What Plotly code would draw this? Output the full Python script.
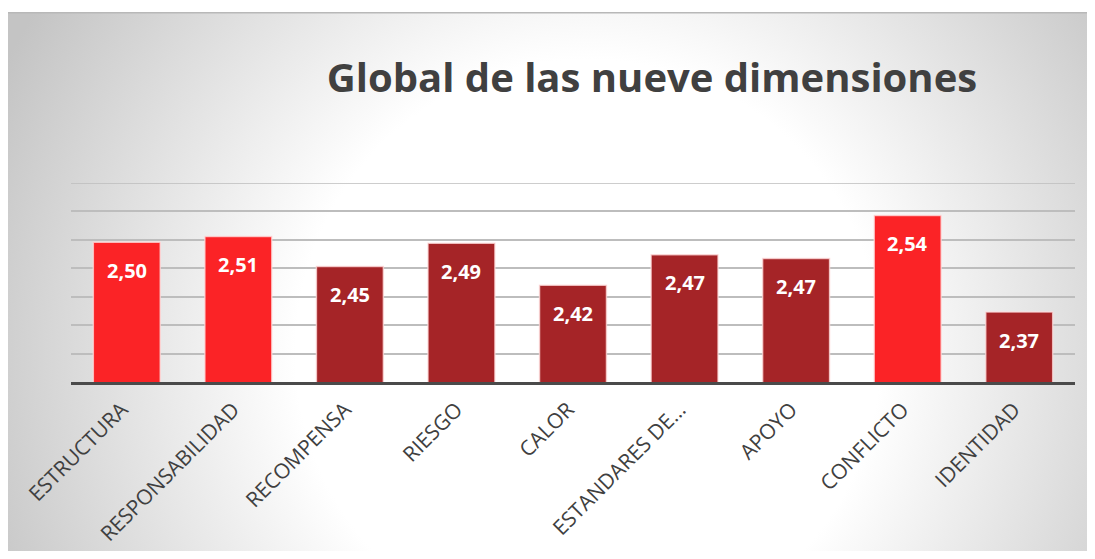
import base64
import plotly.graph_objects as go

categories = ["ESTRUCTURA", "RESPONSABILIDAD", "RECOMPENSA", "RIESGO", "CALOR",
              "ESTANDARES DE…", "APOYO", "CONFLICTO", "IDENTIDAD"]
values = [2.496, 2.506, 2.453, 2.494, 2.420, 2.474, 2.467, 2.543, 2.373]
value_labels = ["2,50", "2,51", "2,45", "2,49", "2,42", "2,47", "2,47", "2,54", "2,37"]
highlight = [True, True, False, False, False, False, False, True, False]
grid_values = [2.25, 2.30, 2.35, 2.40, 2.45, 2.50, 2.55, 2.60]

BRIGHT = "#FB2326"
DARK = "#A52427"
GRID = "#bdbdbd"
colors = [BRIGHT if h else DARK for h in highlight]

W, H = 1087, 543
L, R, T, B = 63, 20, 175, 169
pw, ph = W - L - R, H - T - B

PW, PH = 1087, 540  # background panel size (px)
svg = (f'<svg xmlns="http://www.w3.org/2000/svg" width="{PW}" height="{PH}" preserveAspectRatio="none">'
       '<defs><radialGradient id="g" gradientUnits="userSpaceOnUse" cx="580" cy="340" r="650">'
       '<stop offset="0" stop-color="#ffffff"/><stop offset="0.45" stop-color="#ffffff"/>'
       '<stop offset="1" stop-color="#c4c4c4"/></radialGradient></defs>'
       f'<rect x="0" y="0" width="{PW}" height="{PH}" fill="url(#g)"/>'
       f'<line x1="0" y1="0.75" x2="{PW}" y2="0.75" stroke="#b8b8b8" stroke-width="1.5"/>'
       '</svg>')
src = "data:image/svg+xml;base64," + base64.b64encode(svg.encode()).decode()

fig = go.Figure()
fig.add_trace(go.Bar(
    x=categories, y=values,
    marker=dict(color=colors, line=dict(color="rgba(255,220,220,0.75)", width=1.5)),
    width=0.6, hoverinfo="x+y",
))

annotations = []
for c, v, t in zip(categories, values, value_labels):
    annotations.append(dict(x=c, y=v, text=t, showarrow=False, yshift=-28,
                            xanchor="center", yanchor="middle",
                            font=dict(family="Open Sans", size=20, color="white", weight="bold")))

fig.update_layout(
    width=W, height=H, autosize=False,
    margin=dict(l=L, r=R, t=T, b=B, autoexpand=False),
    paper_bgcolor="white",
    plot_bgcolor="rgba(0,0,0,0)",
    title=dict(text="<b>Global de las nueve dimensiones</b>", x=644 / W, xanchor="center",
               y=1 - 70 / H, yanchor="middle",
               font=dict(family="Open Sans", size=40, color="#404040")),
    xaxis=dict(tickangle=-45, tickfont=dict(family="Open Sans", size=21, color="#404040"),
               showline=True, linecolor="#4a4a4a", linewidth=3, ticks="outside",
               ticklen=4, tickcolor="rgba(0,0,0,0)", showgrid=False,
               ticklabelshift=-5, automargin=False),
    yaxis=dict(range=[grid_values[0], grid_values[-1]], tickmode="array",
               tickvals=grid_values, showticklabels=False,
               showgrid=True, gridcolor=GRID, gridwidth=1.5, zeroline=False,
               showline=False, automargin=False),
    showlegend=False,
    annotations=annotations,
    shapes=[dict(type="line", xref="paper", x0=0, x1=1, yref="y",
                 y0=grid_values[-1], y1=grid_values[-1],
                 line=dict(color=GRID, width=1.5), layer="below")],
    images=[dict(source=src, xref="paper", yref="paper",
                 x=(0 - L) / pw, y=(H - B - 4) / ph,
                 sizex=PW / pw, sizey=PH / ph,
                 xanchor="left", yanchor="top", sizing="stretch", layer="below")],
)

fig.write_html("out.html")
